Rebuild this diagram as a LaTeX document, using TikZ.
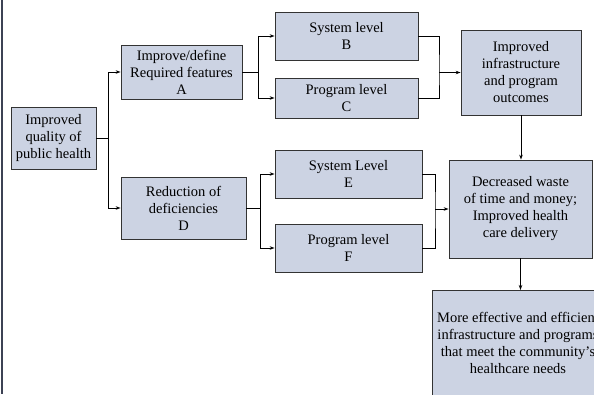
\documentclass[tikz,border=0pt]{standalone}
\usepackage{fontspec}
\setmainfont{Liberation Serif}
\usetikzlibrary{arrows.meta}

\definecolor{boxfill}{RGB}{204,211,227}
\definecolor{edgeline}{RGB}{60,66,84}

\tikzset{
  box/.style={draw=black!80,line width=0.8pt,fill=boxfill,align=center,inner sep=2pt},
  conn/.style={line width=0.9pt,black},
  arr/.style={conn,-{Stealth[length=5pt,width=3.5pt]}},
}

\begin{document}
\begin{tikzpicture}[x=1pt,y=-1pt]
\fontsize{14.5}{17}\selectfont

\useasboundingbox (0,0) rectangle (594,394);
\clip (0,0) rectangle (594,394);

\draw[edgeline,line width=1.3pt] (2,0) -- (2,394);

% boxes
\node[box,minimum width=85,minimum height=62] (health) at (53.5,138) {Improved\\quality of\\public health};
\node[box,minimum width=121,minimum height=54] (featA) at (181.5,72) {Improve/define\\Required features\\A};
\node[box,minimum width=125,minimum height=62] (redD) at (183.5,208) {Reduction of\\deficiencies\\D};

\node[box,minimum width=143,minimum height=48] (sysB) at (346.5,36) {System level\\B};
\node[box,minimum width=143,minimum height=40] (progC) at (346.5,98) {Program level\\C};
\node[box,minimum width=147,minimum height=48] (sysE) at (348.5,174) {System Level\\E};
\node[box,minimum width=147,minimum height=48] (progF) at (348.5,248) {Program level\\F};

\node[box,minimum width=120,minimum height=85] (outcome) at (521,72.5) {Improved\\infrastructure\\and program\\outcomes};
\node[box,minimum width=143,minimum height=98] (waste) at (520.5,209) {Decreased waste\\of time and money;\\Improved health\\care delivery};

\node[box,minimum width=190,minimum height=130,anchor=north west] (result) at (432,290) {};
\node[align=center,inner sep=0pt] (resulttext) at (518,343) {More effective and efficient\\infrastructure and programs\\that meet the community's\\healthcare needs};

% forks
\draw[conn] (health.east) -- ++(12,0) coordinate (fork1);
\draw[arr] (fork1) |- (featA.west);
\draw[arr] (fork1) |- (redD.west);

\draw[conn] (featA.east) -- ++(16,0) coordinate (fork2);
\draw[arr] (fork2) |- (sysB.west);
\draw[arr] (fork2) |- (progC.west);

\draw[conn] (redD.east) -- ++(14,0) coordinate (fork3);
\draw[arr] (fork3) |- (sysE.west);
\draw[arr] (fork3) |- (progF.west);

% merges
\coordinate (merge1) at (439,72.5);
\draw[conn] (sysB.east) -| (merge1) |- (progC.east);
\draw[arr] (merge1) -- (outcome.west);

\coordinate (merge2) at (435,209);
\draw[conn] (sysE.east) -| (merge2) |- (progF.east);
\draw[arr] (merge2) -- (waste.west);

% downward
\draw[arr] (outcome.south) -- (outcome.south |- waste.north);
\draw[arr] (waste.south) -- (waste.south |- result.north);
\end{tikzpicture}
\end{document}
